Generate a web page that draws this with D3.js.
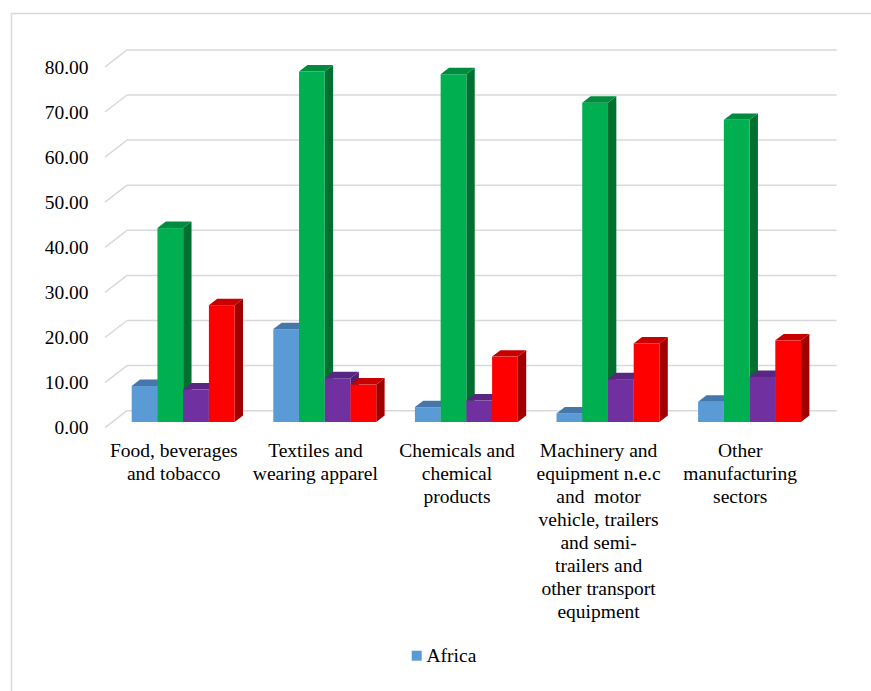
<!DOCTYPE html>
<html>
<head>
<meta charset="utf-8">
<script src="https://cdn.jsdelivr.net/npm/d3@7"></script>
<style>
  html, body { margin: 0; padding: 0; background: #fff; }
  svg { display: block; }
</style>
</head>
<body>
<svg id="chart" width="871" height="691" font-family="'Liberation Serif', 'Times New Roman', 'DejaVu Serif', serif"></svg>
<script>
// Category labels (explicit line breaks keep the wrapped layout)
const categories = [
  "Food, beverages\nand tobacco",
  "Textiles and\nwearing apparel",
  "Chemicals and\nchemical\nproducts",
  "Machinery and\nequipment n.e.c\nand  motor\nvehicle, trailers\nand semi-\ntrailers and\nother transport\nequipment",
  "Other\nmanufacturing\nsectors"
];
const seriesNames = ["Africa", "Series 2", "Series 3", "Series 4"];
const africa  = [8.0, 20.6, 3.3, 1.9, 4.5];
const series2 = [43.0, 77.7, 77.1, 70.8, 67.0];
const series3 = [7.2, 9.7, 4.8, 9.5, 10.0];
const series4 = [25.9, 8.3, 14.5, 17.4, 18.1];
const yTicks = [0, 10, 20, 30, 40, 50, 60, 70, 80];
const legendShown = ["Africa"];

const seriesValues = [africa, series2, series3, series4];
const palette = [
  { front: "#5B9BD5", top: "#4677AA", side: "#3E6A97" },
  { front: "#00B050", top: "#008C40", side: "#006F30" },
  { front: "#7030A0", top: "#5A2683", side: "#4E2070" },
  { front: "#FF0000", top: "#C80000", side: "#A00000" }
];

const svg = d3.select("#chart");
const FONT = "'Liberation Serif', 'Times New Roman', 'DejaVu Serif', serif";

// Outer chart frame
svg.append("rect")
  .attr("x", 11.5).attr("y", 13.5)
  .attr("width", 880).attr("height", 700)
  .attr("fill", "none").attr("stroke", "#D9D9D9").attr("stroke-width", 1.5);

// 3D geometry: back wall origin and the depth vector (back -> front)
const back = { x: 127, y: 410.7 };
const depth = { dx: -22, dy: 17 };
const barFront = 0.665;   // fraction of depth where bar fronts sit
const barDepth = 0.38;    // bar thickness as a fraction of depth

const y = d3.scaleLinear().domain([0, 80]).range([0, 360.8]);
const x = d3.scaleBand().domain(d3.range(categories.length))
  .range([0, 708]).paddingInner(0.273).paddingOuter(0.1365);
const xs = d3.scaleBand().domain(d3.range(seriesNames.length))
  .range([0, x.bandwidth()]).padding(0);

// Gridlines: back wall horizontals plus side-wall diagonals
const grid = svg.append("g").attr("stroke", "#D9D9D9").attr("stroke-width", 1.5).attr("fill", "none");
yTicks.forEach(t => {
  const yb = back.y - y(t);
  grid.append("line").attr("x1", back.x).attr("y1", yb).attr("x2", back.x + 709.7).attr("y2", yb);
  grid.append("line").attr("x1", back.x + depth.dx).attr("y1", yb + depth.dy)
    .attr("x2", back.x).attr("y2", yb);
});

// Y axis labels on the front plane
svg.append("g").selectAll("text").data(yTicks).join("text")
  .attr("x", 88.5)
  .attr("y", t => back.y - y(t) + depth.dy)
  .attr("dy", "0.34em")
  .attr("text-anchor", "end")
  .attr("font-family", FONT)
  .attr("font-size", 19.5)
  .attr("fill", "#000")
  .text(t => d3.format(".2f")(t));

// Bars
const fx = depth.dx * barFront, fy = depth.dy * barFront;
const bx = -depth.dx * barDepth, by = -depth.dy * barDepth;  // offset front -> back of bar
const bars = svg.append("g");
categories.forEach((c, i) => {
  seriesValues.forEach((vals, s) => {
    const v = vals[i];
    const x0 = back.x + x(i) + xs(s) + fx;
    const x1 = x0 + xs.bandwidth();
    const yBot = back.y + fy;
    const yTop = yBot - y(v);
    const col = palette[s];
    const g = bars.append("g");
    // side face
    g.append("path")
      .attr("d", `M${x1},${yTop}L${x1 + bx},${yTop + by}L${x1 + bx},${yBot + by}L${x1},${yBot}Z`)
      .attr("fill", col.side);
    // front face
    g.append("rect").attr("x", x0).attr("y", yTop)
      .attr("width", x1 - x0).attr("height", yBot - yTop)
      .attr("fill", col.front);
    // top face
    g.append("path")
      .attr("d", `M${x0},${yTop}L${x0 + bx},${yTop + by}L${x1 + bx},${yTop + by}L${x1},${yTop}Z`)
      .attr("fill", col.top);
  });
});

// Category labels
const lab = svg.append("g");
categories.forEach((c, i) => {
  const cx = back.x + x(i) + x.bandwidth() / 2 + depth.dx - 2;
  const t = lab.append("text")
    .attr("text-anchor", "middle")
    .attr("font-family", FONT)
    .attr("font-size", 19.5)
    .attr("fill", "#000")
    .attr("xml:space", "preserve")
    .style("white-space", "pre");
  c.split("\n").forEach((line, k) => {
    t.append("tspan").attr("x", cx).attr("y", 456.7 + k * 23).text(line);
  });
});

// Legend
const lg = svg.append("g");
legendShown.forEach((name, k) => {
  const s = seriesNames.indexOf(name);
  lg.append("rect").attr("x", 411.7).attr("y", 650.7).attr("width", 10).attr("height", 10)
    .attr("fill", palette[s].front);
  lg.append("text").attr("x", 426.5).attr("y", 661.7)
    .attr("font-family", FONT)
    .attr("font-size", 19.5)
    .attr("fill", "#000")
    .text(name);
});
</script>
</body>
</html>
